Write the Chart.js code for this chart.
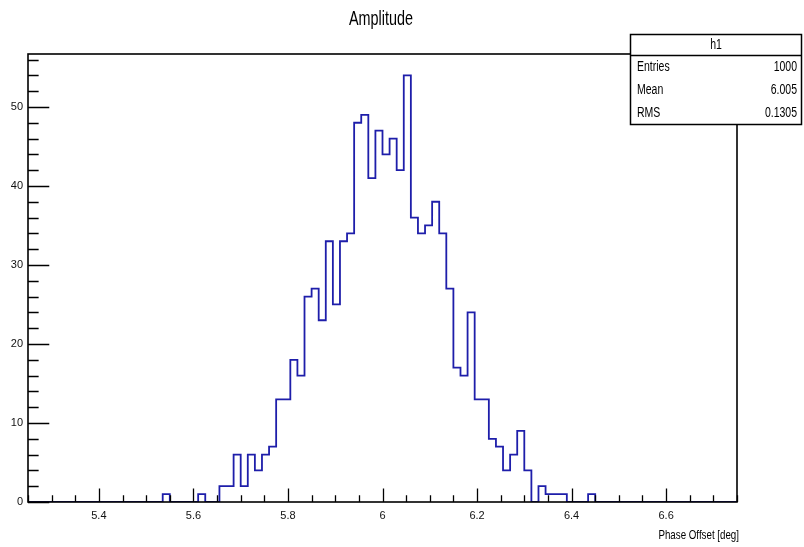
<!DOCTYPE html>
<html><head><meta charset="utf-8">
<script src="https://cdn.jsdelivr.net/npm/chart.js@4/dist/chart.umd.min.js"></script>
<style>html,body{margin:0;padding:0;background:#fff;overflow:hidden}#wrap{width:804px;height:547px;position:relative}</style>
</head><body><div id="wrap"><canvas id="c" width="804" height="547"></canvas></div>
<script>
// ---- data ----
const histTitle = 'Amplitude';
const histName = 'h1';
const xAxisTitle = 'Phase Offset [deg]';
const xMin = 5.25;
const xMax = 6.75;
const binWidth = 0.015;
const yMax = 56.7;
const counts = [
  0,0,0,0,0,0,0,0,0,0,
  0,0,0,0,0,0,0,0,0,1,
  0,0,0,0,1,0,0,2,2,6,
  2,6,4,6,7,13,13,18,16,26,
  27,23,33,25,33,34,48,49,41,47,
  44,46,42,54,36,34,35,38,34,27,
  17,16,24,13,13,8,7,4,6,9,
  4,0,2,1,1,1,0,0,0,1,
  0,0,0,0,0,0,0,0,0,0,
  0,0,0,0,0,0,0,0,0,0
];
const xTickLabels = [5.4, 5.6, 5.8, 6, 6.2, 6.4, 6.6];
const yTickLabels = [0, 10, 20, 30, 40, 50];
const statsNames = ['Entries', 'Mean', 'RMS'];
const statsValues = ['1000', '6.005', '0.1305'];

// stepped outline points at bin low edges (+ final upper edge)
const histPoints = counts.map((c, i) => ({ x: xMin + i * binWidth, y: c }));
histPoints.push({ x: xMax, y: counts[counts.length - 1] });

const SANS = '"Liberation Sans", Arial, Helvetica, sans-serif';
const NARROW = '"Liberation Sans Narrow", "Liberation Sans", Arial, sans-serif';

function squeezedText(ctx, text, x, y, size, align, sx) {
  ctx.save();
  ctx.font = size + 'px ' + SANS;
  ctx.textAlign = align;
  ctx.textBaseline = 'middle';
  ctx.fillStyle = '#000';
  ctx.translate(x, y);
  ctx.scale(sx, 1);
  ctx.fillText(text, 0, 0);
  ctx.restore();
}

const rootFrame = {
  id: 'rootFrame',
  afterDatasetsDraw(chart) {
    const ctx = chart.ctx, ca = chart.chartArea;
    const xs = chart.scales.x, ys = chart.scales.y;
    ctx.save();
    ctx.strokeStyle = '#000';
    ctx.lineWidth = 1.6;
    ctx.strokeRect(ca.left, ca.top, ca.right - ca.left, ca.bottom - ca.top);
    // x ticks (inside, pointing up)
    const xMajLen = 0.03 * (ca.bottom - ca.top), xMinLen = xMajLen / 2;
    ctx.lineWidth = 1.3;
    ctx.beginPath();
    for (let k = 0; ; k++) {
      const v = 5.25 + k * 0.05;
      if (v > xs.max + 1e-9) break;
      const px = Math.round(xs.getPixelForValue(v)) + 0.5;
      const isMaj = xTickLabels.some(t => Math.abs(t - v) < 1e-6);
      ctx.moveTo(px, ca.bottom);
      ctx.lineTo(px, ca.bottom - (isMaj ? xMajLen : xMinLen));
    }
    // y ticks (inside, pointing right)
    const yMajLen = 0.03 * (ca.right - ca.left), yMinLen = yMajLen / 2;
    for (let v = 0; v <= ys.max + 1e-9; v += 2) {
      const py = Math.round(ys.getPixelForValue(v)) + 0.5;
      const isMaj = (v % 10) === 0;
      ctx.moveTo(ca.left, py);
      ctx.lineTo(ca.left + (isMaj ? yMajLen : yMinLen), py);
    }
    ctx.stroke();
    ctx.restore();
  },
  afterDraw(chart) {
    const ctx = chart.ctx, ca = chart.chartArea;
    // title
    squeezedText(ctx, histTitle, 381, 19, 20, 'center', 0.72);
    // axis title
    squeezedText(ctx, xAxisTitle, 739, 535, 13, 'right', 0.75);
    // stats box
    const bx0 = 630.5, bx1 = 801.5, by0 = 34.5, by1 = 124.5, hdr = 55.5;
    ctx.save();
    ctx.fillStyle = '#fff';
    ctx.fillRect(bx0, by0, bx1 - bx0, by1 - by0);
    ctx.strokeStyle = '#000';
    ctx.lineWidth = 1.5;
    ctx.strokeRect(bx0, by0, bx1 - bx0, by1 - by0);
    ctx.beginPath();
    ctx.moveTo(bx0, hdr); ctx.lineTo(bx1, hdr);
    ctx.stroke();
    ctx.restore();
    squeezedText(ctx, histName, (bx0 + bx1) / 2, 45, 14, 'center', 0.75);
    const rowY = [67, 90, 113];
    statsNames.forEach((n, i) => {
      squeezedText(ctx, n, 637, rowY[i], 14, 'left', 0.75);
      squeezedText(ctx, statsValues[i], 797, rowY[i], 14, 'right', 0.75);
    });
  }
};

new Chart(document.getElementById('c'), {
  type: 'line',
  data: {
    datasets: [{
      data: histPoints,
      stepped: 'before',
      borderColor: '#1e1eaa',
      borderWidth: 1.8,
      pointRadius: 0,
      fill: false,
      tension: 0
    }]
  },
  options: {
    responsive: false,
    animation: false,
    devicePixelRatio: 1,
    layout: { padding: { top: 54, right: 67, left: 0, bottom: 0 } },
    plugins: { legend: { display: false }, tooltip: { enabled: false }, title: { display: false } },
    scales: {
      x: {
        type: 'linear',
        min: xMin,
        max: xMax,
        afterBuildTicks: s => { s.ticks = xTickLabels.map(v => ({ value: v })); },
        afterFit: s => { s.height = 45; },
        grid: { display: false, drawTicks: false },
        border: { display: false },
        ticks: {
          padding: 7,
          maxRotation: 0,
          autoSkip: false,
          color: '#111',
          font: { family: NARROW, size: 11 },
          callback: v => String(Math.round(v * 10) / 10)
        }
      },
      y: {
        type: 'linear',
        min: 0,
        max: yMax,
        afterBuildTicks: s => { s.ticks = yTickLabels.map(v => ({ value: v })); },
        afterFit: s => { s.width = 28; },
        grid: { display: false, drawTicks: false },
        border: { display: false },
        ticks: {
          padding: 5,
          autoSkip: false,
          color: '#111',
          font: { family: NARROW, size: 11 },
          callback: v => String(v)
        }
      }
    }
  },
  plugins: [rootFrame]
});
</script>
</body></html>
